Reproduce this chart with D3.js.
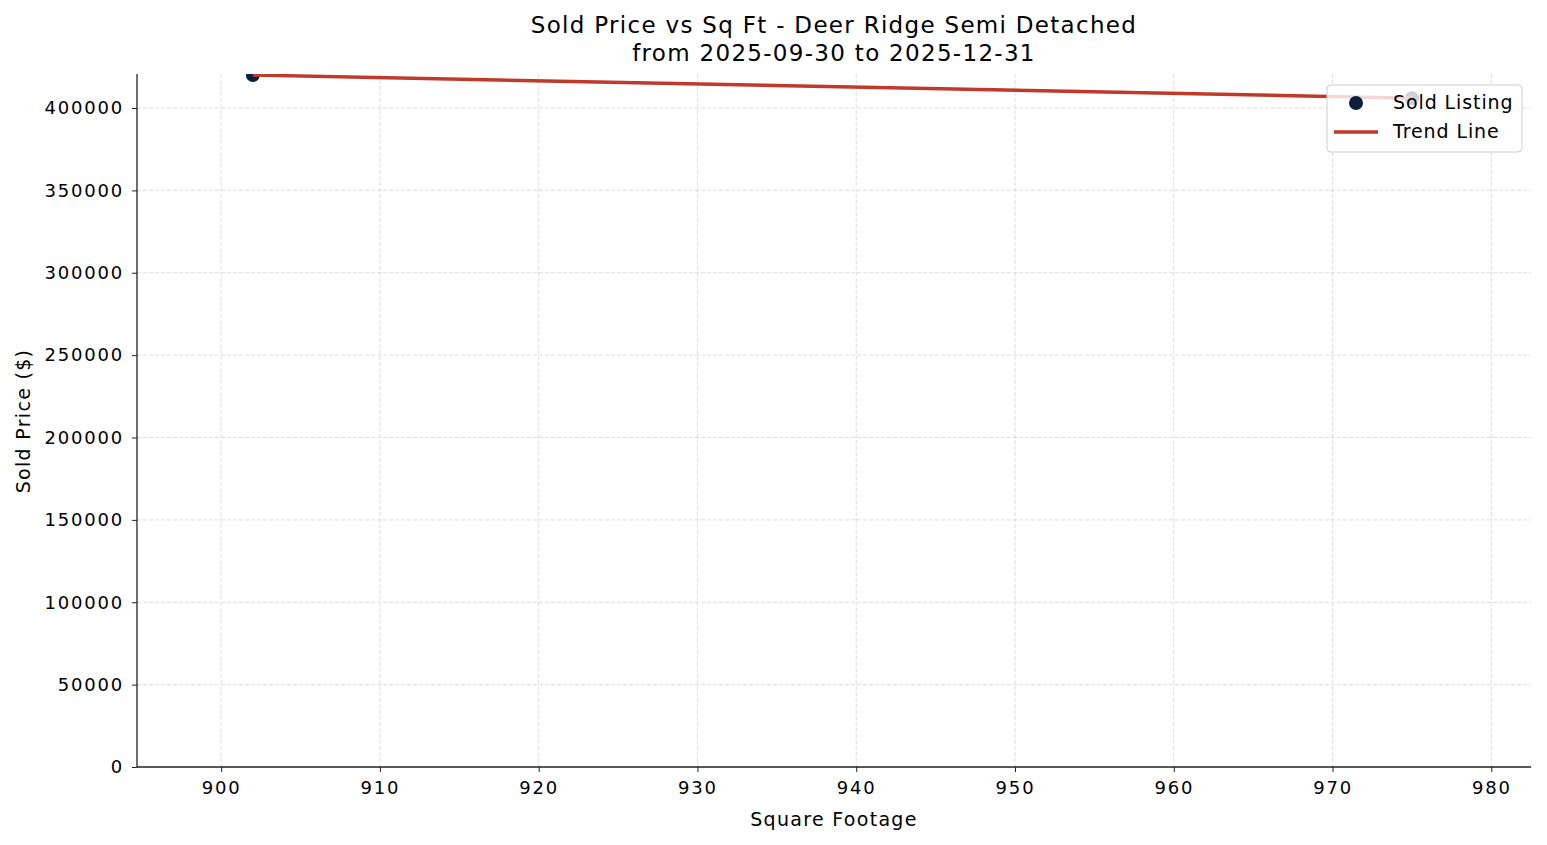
<!DOCTYPE html>
<html><head><meta charset="utf-8">
<script src="https://cdn.jsdelivr.net/npm/d3@7"></script>
<style>body{margin:0;background:#fff;font-family:"DejaVu Sans",sans-serif}</style>
</head><body>
<svg id="chart" width="1547" height="845"></svg>
<script>
var sqft = [902, 975];
var prices = [420000, 406000];
var trendX = [902, 975];
var trendY = [420000, 406000];
var xTicks = [900, 910, 920, 930, 940, 950, 960, 970, 980];
var yTicks = [0, 50000, 100000, 150000, 200000, 250000, 300000, 350000, 400000];

var svg = d3.select('#chart');
var m = {left: 137, right: 1531, top: 74, bottom: 767};
var x = d3.scaleLinear().domain([894.7, 982.5]).range([m.left, m.right]);
var y = d3.scaleLinear().domain([0, 420650]).range([m.bottom, m.top]);

// grid
svg.append('g').selectAll('line').data(xTicks).enter().append('line')
  .attr('x1', d => x(d)).attr('x2', d => x(d)).attr('y1', m.top).attr('y2', m.bottom)
  .attr('stroke', '#ccc').attr('stroke-width', 0.8).attr('stroke-dasharray', '4,2').attr('opacity', 0.8);
svg.append('g').selectAll('line').data(yTicks).enter().append('line')
  .attr('x1', m.left).attr('x2', m.right).attr('y1', d => y(d)).attr('y2', d => y(d))
  .attr('stroke', '#ccc').attr('stroke-width', 0.8).attr('stroke-dasharray', '4,2').attr('opacity', 0.8);

var clip = svg.append('clipPath').attr('id', 'c').append('rect')
  .attr('x', m.left).attr('y', m.top).attr('width', m.right - m.left).attr('height', m.bottom - m.top);
var plot = svg.append('g').attr('clip-path', 'url(#c)');

plot.selectAll('circle').data(sqft).enter().append('circle')
  .attr('cx', d => x(d)).attr('cy', (d, i) => y(prices[i])).attr('r', 7)
  .attr('fill', '#0b1f3f');
plot.append('path')
  .datum(trendX.map((d, i) => [d, trendY[i]]))
  .attr('d', d3.line().x(d => x(d[0])).y(d => y(d[1])))
  .attr('fill', 'none').attr('stroke', '#c0392b').attr('stroke-width', 3.5);

// axes
var xAxis = svg.append('g').attr('transform', 'translate(0,' + m.bottom + ')')
  .call(d3.axisBottom(x).tickValues(xTicks).tickSize(5).tickPadding(9));
var yAxis = svg.append('g').attr('transform', 'translate(' + m.left + ',0)')
  .call(d3.axisLeft(y).tickValues(yTicks).tickSize(5).tickPadding(8).tickFormat(d3.format('d')));
[xAxis, yAxis].forEach(function(a){
  a.selectAll('text').attr('font-size', 18).attr('letter-spacing', 1.8).attr('fill', '#000').attr('font-family', 'DejaVu Sans');
  a.selectAll('line').attr('stroke', '#222');
  a.select('.domain').attr('stroke', '#222').attr('stroke-width', 1.3);
});
xAxis.select('.domain').attr('d', 'M' + m.left + ',0H' + m.right);
yAxis.select('.domain').attr('d', 'M0,' + m.bottom + 'V' + m.top);

// labels
svg.append('text').attr('x', 834).attr('y', 826).attr('text-anchor', 'middle')
  .attr('font-size', 19).attr('letter-spacing', 1.3).text('Square Footage');
svg.append('text').attr('transform', 'translate(30,421) rotate(-90)').attr('text-anchor', 'middle')
  .attr('font-size', 19).attr('letter-spacing', 1.3).text('Sold Price ($)');
svg.append('text').attr('x', 834).attr('y', 33).attr('text-anchor', 'middle')
  .attr('font-size', 23).attr('letter-spacing', 1.3).text('Sold Price vs Sq Ft - Deer Ridge Semi Detached');
svg.append('text').attr('x', 834).attr('y', 61).attr('text-anchor', 'middle')
  .attr('font-size', 23).attr('letter-spacing', 1.3).text('from 2025-09-30 to 2025-12-31');

// legend
var lg = svg.append('g').attr('transform', 'translate(1327,85)');
lg.append('rect').attr('width', 195).attr('height', 67).attr('rx', 4)
  .attr('fill', '#fff').attr('fill-opacity', 0.8).attr('stroke', '#ccc');
lg.append('circle').attr('cx', 29).attr('cy', 18).attr('r', 7).attr('fill', '#0b1f3f');
lg.append('line').attr('x1', 7).attr('x2', 51).attr('y1', 47).attr('y2', 47)
  .attr('stroke', '#c0392b').attr('stroke-width', 3.5);
lg.append('text').attr('x', 66).attr('y', 24).attr('font-size', 19).attr('letter-spacing', 0.9).text('Sold Listing');
lg.append('text').attr('x', 66).attr('y', 53).attr('font-size', 19).attr('letter-spacing', 0.9).text('Trend Line');
</script>
</body></html>
